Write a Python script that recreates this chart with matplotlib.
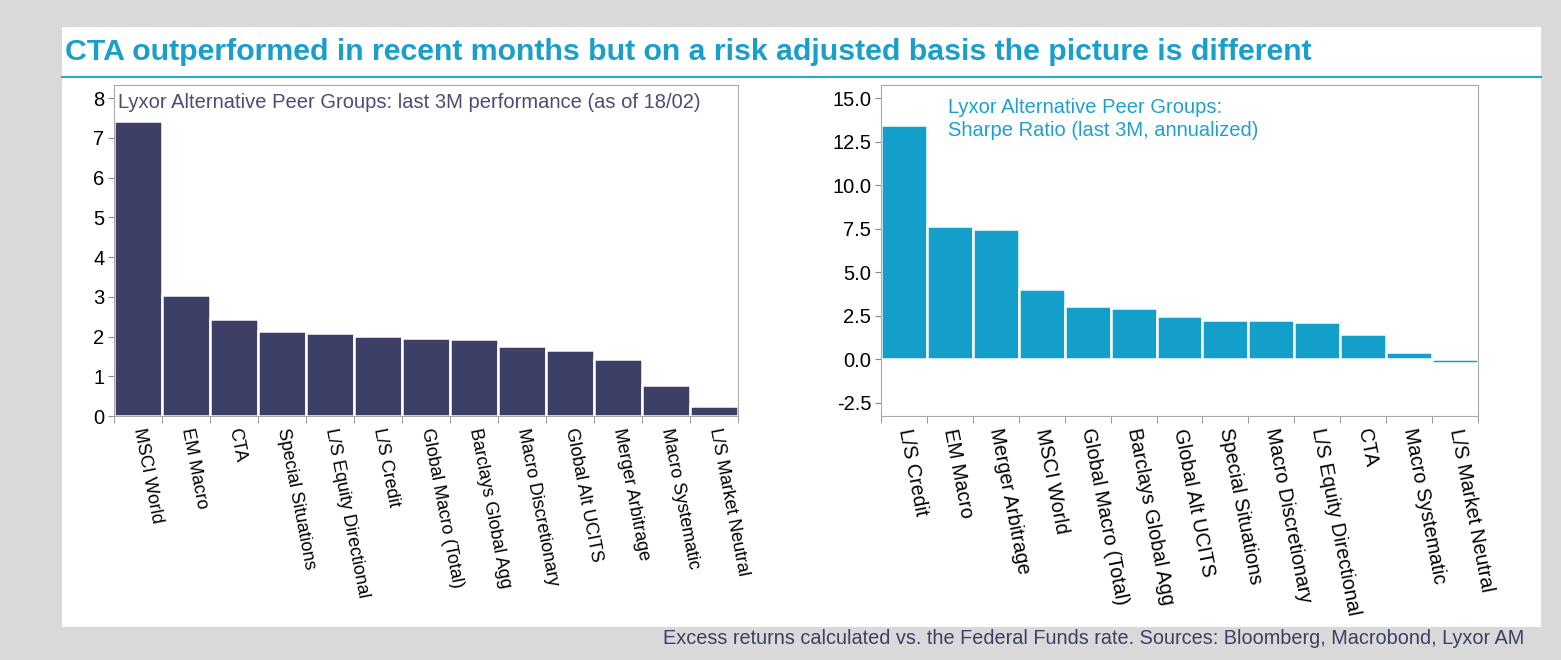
import matplotlib

matplotlib.use("Agg")
import matplotlib.pyplot as plt
from matplotlib.patches import Rectangle
from matplotlib.lines import Line2D
import numpy as np

plt.rcParams["font.family"] = ["Liberation Sans", "DejaVu Sans"]

# Left panel: last 3M performance
perf_labels = [
    "MSCI World", "EM Macro", "CTA", "Special Situations", "L/S Equity Directional",
    "L/S Credit", "Global Macro (Total)", "Barclays Global Agg", "Macro Discretionary",
    "Global Alt UCITS", "Merger Arbitrage", "Macro Systematic", "L/S Market Neutral",
]
perf_values = [7.42, 3.05, 2.45, 2.15, 2.08, 2.02, 1.97, 1.94, 1.75, 1.67, 1.43, 0.77, 0.26]

# Right panel: Sharpe ratio (last 3M, annualized)
sharpe_labels = [
    "L/S Credit", "EM Macro", "Merger Arbitrage", "MSCI World", "Global Macro (Total)",
    "Barclays Global Agg", "Global Alt UCITS", "Special Situations", "Macro Discretionary",
    "L/S Equity Directional", "CTA", "Macro Systematic", "L/S Market Neutral",
]
sharpe_values = [13.48, 7.65, 7.48, 4.0, 3.04, 2.93, 2.46, 2.25, 2.25, 2.11, 1.45, 0.40, -0.2]

NAVY = "#3d3f66"
BLUE = "#139fca"
TITLE_BLUE = "#1a9fcb"

W, H = 1561, 660
fig = plt.figure(figsize=(W / 100, H / 100), dpi=100)
fig.patch.set_facecolor("#d9d9d9")

# white panel + title rule
fig.add_artist(Rectangle((62 / W, 1 - 627 / H), (1541 - 62) / W, (627 - 27) / H,
                         transform=fig.transFigure, facecolor="white", edgecolor="none", zorder=0))
fig.add_artist(Line2D([62 / W, 1541 / W], [1 - 77 / H] * 2, transform=fig.transFigure,
                      color="#2aa5d0", lw=1.5))
fig.text(65 / W, 1 - 52 / H,
         "CTA outperformed in recent months but on a risk adjusted basis the picture is different",
         color=TITLE_BLUE, fontsize=21.8, fontweight="bold", va="center", ha="left")
fig.text(1524 / W, 1 - 639 / H,
         "Excess returns calculated vs. the Federal Funds rate. Sources: Bloomberg, Macrobond, Lyxor AM",
         color="#3d3f66", fontsize=14.3, va="center", ha="right")


def bar_panel(x0, x1, labels, values, color, ylim, yticks, fmt, xlabelsize):
    ax = fig.add_axes([x0 / W, 1 - 416 / H, (x1 - x0) / W, (416 - 85) / H])
    x = np.arange(len(labels))
    ax.bar(x, values, width=1.0, color=color, edgecolor="white", linewidth=1.8, zorder=2)
    ax.set_xlim(-0.5, len(labels) - 0.5)
    ax.set_ylim(*ylim)
    ax.set_yticks(yticks, [fmt.format(v) for v in yticks])
    ax.set_xticks(x, labels, rotation=-79, rotation_mode="anchor", ha="left", va="center")
    ax.set_xticks(np.arange(len(labels) + 1) - 0.5, minor=True)
    ax.tick_params(axis="x", which="major", length=0, pad=9, labelsize=xlabelsize)
    ax.tick_params(axis="x", which="minor", length=5, color="#888888")
    ax.tick_params(axis="y", length=4, color="#888888", labelsize=14.5, pad=3)
    for s in ax.spines.values():
        s.set_color("#aaaaaa")
    return ax


ax1 = bar_panel(114, 738, perf_labels, perf_values, NAVY, (0, 8.33),
                list(range(0, 9)), "{:d}", 13)
ax1.text(0.006, 0.976, "Lyxor Alternative Peer Groups: last 3M performance (as of 18/02)",
         transform=ax1.transAxes, color="#4a4c78", fontsize=14.5, va="top", ha="left")

ax2 = bar_panel(881, 1478, sharpe_labels, sharpe_values, BLUE, (-3.27, 15.75),
                [-2.5, 0.0, 2.5, 5.0, 7.5, 10.0, 12.5, 15.0], "{:.1f}", 14.3)
ax2.text(0.112, 0.96, "Lyxor Alternative Peer Groups:\nSharpe Ratio (last 3M, annualized)",
         transform=ax2.transAxes, color="#1fa0cc", fontsize=14.5, va="top", ha="left",
         linespacing=1.25)

fig.savefig("out.png", dpi=100, facecolor=fig.get_facecolor())
